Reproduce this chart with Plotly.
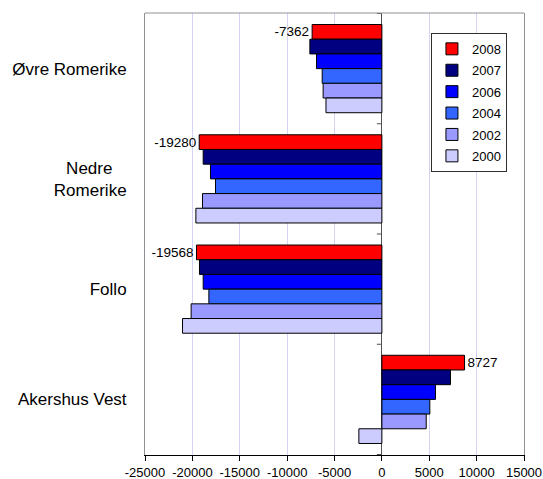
import plotly.graph_objects as go

# ---- data ----
categories = ["Øvre Romerike", "Nedre Romerike", "Follo", "Akershus Vest"]
category_labels = ["Øvre Romerike", "Nedre\u00a0\u00a0\u00a0<br>Romerike", "Follo", "Akershus Vest"]
years = ["2008", "2007", "2006", "2004", "2002", "2000"]
v2008 = [-7362, -19280, -19568, 8727]
v2007 = [-7600, -18860, -19250, 7240]
v2006 = [-6900, -18090, -18860, 5660]
v2004 = [-6300, -17560, -18260, 5060]
v2002 = [-6200, -18930, -20130, 4680]
v2000 = [-5900, -19630, -21040, -2430]
x_tickvals = [-25000, -20000, -15000, -10000, -5000, 0, 5000, 10000, 15000]
x_ticktext = ["-25000", "-20000", "-15000", "-10000", "-5000", "0", "5000", "10000", "15000"]
labelled_year = "2008"

series = [v2008, v2007, v2006, v2004, v2002, v2000]
colors = ["#FF0000", "#000080", "#0000FF", "#3366FF", "#9999FF", "#CCCCFF"]

FONT = "Liberation Sans, Arial, sans-serif"

fig = go.Figure()
for yr, vals, col in zip(years, series, colors):
    fig.add_trace(go.Bar(
        name=yr, y=categories, x=vals, orientation="h",
        marker=dict(color=col, line=dict(color="#000000", width=1)),
        text=[str(v) for v in vals] if yr == labelled_year else None,
        textposition="outside" if yr == labelled_year else "none",
        textfont=dict(size=13.5, color="#000000", family=FONT),
        constraintext="none", cliponaxis=False,
        legendgroup=yr, hoverinfo="x+name",
    ))

# small tick marks on the zero (category) axis at category boundaries
shapes = []
for i in range(len(categories) + 1):
    shapes.append(dict(type="line", xref="x", xsizemode="pixel", xanchor=0,
                       x0=-5, x1=0, yref="y", y0=i - 0.5, y1=i - 0.5,
                       line=dict(color="#505050", width=1)))
# top border of plot area
shapes.append(dict(type="line", xref="paper", yref="paper", x0=0, x1=1, y0=1, y1=1,
                   line=dict(color="#909090", width=1)))

fig.update_layout(
    width=543, height=479,
    margin=dict(l=145, r=19, t=13, b=24),
    paper_bgcolor="white", plot_bgcolor="white",
    font=dict(family=FONT, color="#000000"),
    barmode="group", bargap=0.2, bargroupgap=0,
    shapes=shapes,
    showlegend=True,
    legend=dict(x=0.955, y=0.955, xanchor="right", yanchor="top",
                bordercolor="#303030", borderwidth=1, bgcolor="white",
                font=dict(size=13, family=FONT), tracegroupgap=1.5,
                traceorder="grouped"),
    xaxis=dict(range=[-25000, 15000], tickvals=x_tickvals, ticktext=x_ticktext,
               showgrid=True, gridcolor="#D3D3F5", gridwidth=1,
               zeroline=True, zerolinecolor="#505050", zerolinewidth=1,
               showline=True, linecolor="#000000", linewidth=1,
               ticks="outside", ticklen=5, tickcolor="#000000",
               tickfont=dict(size=13, family=FONT), automargin=False),
    yaxis=dict(type="category", categoryorder="array", categoryarray=categories,
               autorange="reversed", tickvals=categories, ticktext=category_labels,
               showgrid=False, showline=True, linecolor="#909090", linewidth=1,
               mirror=True, ticks="", ticklabelstandoff=14,
               tickfont=dict(size=17, family=FONT), automargin=False),
)

fig.write_html("out.html", config={"displayModeBar": False},
               post_script="document.body.style.margin='0';document.body.style.overflow='hidden';")
